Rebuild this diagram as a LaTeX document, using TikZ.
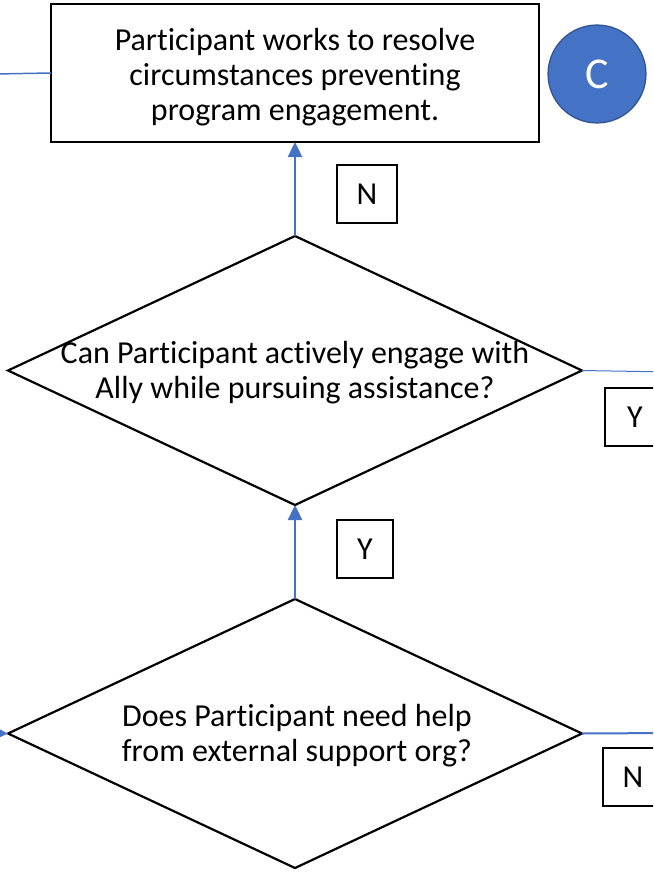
\documentclass[tikz,border=0pt]{standalone}
\usepackage{fontspec}
\setmainfont{Carlito}[Ligatures=NoCommon]
\usetikzlibrary{shapes.geometric,arrows.meta}
\definecolor{flowblue}{HTML}{4472C4}
\definecolor{flowdark}{HTML}{2F528F}
\tikzset{
  procbox/.style={draw=black,line width=1.8pt,rectangle,minimum width=488pt,minimum height=138pt,inner sep=0pt,outer sep=0pt},
  dia/.style={draw=black,line width=2.2pt,diamond,minimum width=574pt,minimum height=269pt,inner sep=0pt,outer sep=0pt},
  txt/.style={align=center,font=\fontsize{32}{35}\selectfont,inner sep=0pt},
  lbl/.style={draw=black,line width=1.6pt,rectangle,inner sep=0pt,outer sep=0pt,font=\fontsize{32}{35}\selectfont},
  flow/.style={draw=flowblue,line width=2.4pt,-{Triangle[length=15pt,width=14pt]}},
  link/.style={draw=flowblue,line width=1.5pt},
  circ/.style={circle,fill=flowblue,draw=flowdark,line width=1.2pt,minimum size=98pt,inner sep=0pt,text=white,font=\fontsize{44}{44}\selectfont}
}
\begin{document}
\begin{tikzpicture}[x=1pt,y=-1pt]
\useasboundingbox (0,0) rectangle (653,872);
\clip (0,0) rectangle (653,872);
\fill[white] (0,0) rectangle (653,872);
% top box
\node[procbox] (box) at (295,73) {};
\node[txt] (boxt) at (295,77) {Participant works to resolve\\circumstances preventing\\program engagement.};
\coordinate (lin) at (-5,74);
\draw[link] (lin) -- (box.west);
% circle C
\node[circ] (cc) at (597,74) {C};
% diamond 1
\node[dia] (d1) at (295,370.5) {};
\node[txt] (d1t) at (295,373) {Can Participant actively engage with\\Ally while pursuing assistance?};
\coordinate (d1out) at (670,372);
\draw[draw=flowblue,line width=1pt] (d1.east) -- (d1out);
\node[lbl,minimum width=60pt,minimum height=58pt] (ly1) at (635,417) {Y};
% diamond 2
\node[dia] (d2) at (295,733.5) {};
\node[txt] (d2t) at (297,736) {Does Participant need help\\from external support org?};
\coordinate (d2out) at (670,733);
\draw[draw=flowblue,line width=2pt] (d2.east) -- (d2out);
\node[lbl,minimum width=60pt,minimum height=58pt] (ln2) at (633,777) {N};
\coordinate (d2in) at (-20,733);
\draw[flow] (d2in) -- (d2.west);
% vertical arrows
\draw[flow] (d1.north) -- (box.south);
\draw[flow] (d2.north) -- (d1.south);
\node[lbl,minimum width=60pt,minimum height=58pt] (ln1) at (367,194) {N};
\node[lbl,minimum width=56pt,minimum height=58pt] (ly2) at (365,549) {Y};
\end{tikzpicture}
\end{document}
